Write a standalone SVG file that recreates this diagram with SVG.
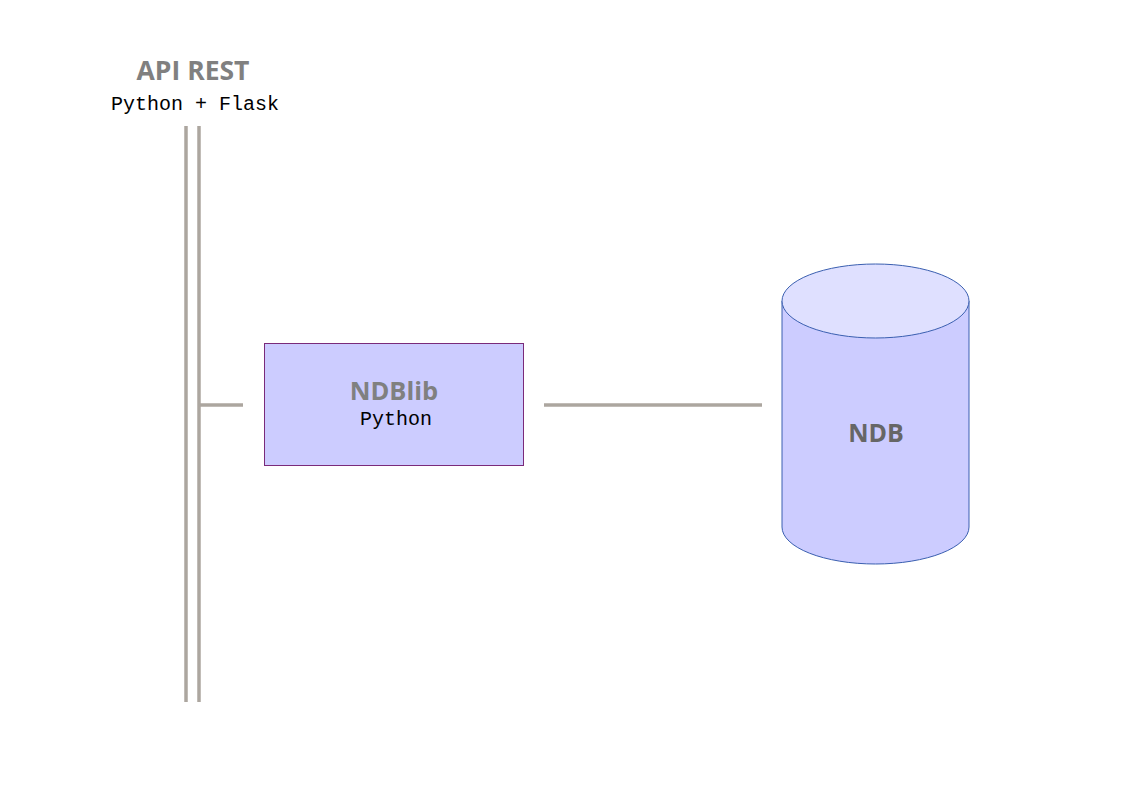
<svg xmlns="http://www.w3.org/2000/svg" width="1123" height="794" viewBox="0 0 1123 794">
<style>
.title{font-family:"Open Sans","Liberation Sans",sans-serif;font-weight:bold;font-size:25.5px;fill:#808080;text-anchor:middle}
.mono{font-family:"Liberation Mono","Courier New",monospace;font-size:20px;fill:#000;text-anchor:middle}
.bus{stroke:#aca69f;stroke-width:3.5;fill:none}
</style>
<rect width="1123" height="794" fill="#fff"/>
<g id="api">
<text class="title" x="193" y="80" style="font-size:26.5px">API REST</text>
<text class="mono" x="195" y="110">Python + Flask</text>
<line class="bus" x1="186" y1="126" x2="186" y2="702"/>
<line class="bus" x1="199" y1="126" x2="199" y2="702"/>
</g>
<g id="connectors">
<line class="bus" x1="200" y1="405" x2="243" y2="405"/>
<line class="bus" x1="544" y1="405" x2="762" y2="405"/>
</g>
<g id="ndblib">
<rect x="264.5" y="343.5" width="259" height="122" fill="#ccccff" stroke="#7a2a7a" stroke-width="1"/>
<text class="title" x="394" y="400">NDBlib</text>
<text class="mono" x="396" y="425">Python</text>
</g>
<g id="ndb">
<path d="M782,301 L782,527 A93.5,37 0 0 0 969,527 L969,301" fill="#ccccff" stroke="#3a5fb0" stroke-width="1"/>
<ellipse cx="875.5" cy="301" rx="93.5" ry="37" fill="#dfe0ff" stroke="#3a5fb0" stroke-width="1"/>
<text class="title" x="876" y="442" style="fill:#666;font-size:25px">NDB</text>
</g>
</svg>
